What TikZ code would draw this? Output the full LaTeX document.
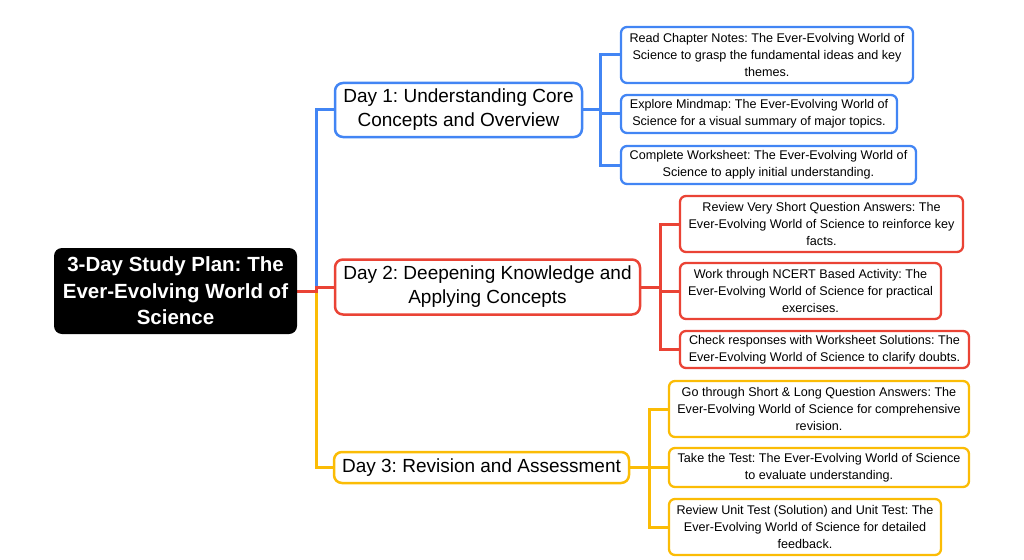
\documentclass[tikz,border=0pt]{standalone}
\usepackage{fontspec}
\setmainfont{Liberation Sans}
\frenchspacing
\usetikzlibrary{backgrounds}
\definecolor{cblue}{RGB}{66,133,244}
\definecolor{cred}{RGB}{234,67,53}
\definecolor{cyel}{RGB}{251,188,5}
\tikzset{
  rootbox/.style={fill=black, rounded corners=8pt, inner sep=0pt, align=center, text=white,
    font=\fontsize{20.5}{26.5}\selectfont\bfseries},
  daybox/.style={draw=#1, line width=2.5pt, fill=white, rounded corners=8pt, inner sep=0pt, align=center,
    font=\fontsize{19}{24}\selectfont},
  leafbox/.style={draw=#1, line width=2.3pt, fill=white, rounded corners=6pt, inner sep=0pt, align=center,
    font=\fontsize{12.6}{17}\selectfont},
  link/.style={draw=#1, line width=3pt},
}
\begin{document}
\begin{tikzpicture}[x=1pt,y=-1pt]
\useasboundingbox (0,0) rectangle (1024,559);

\node[rootbox, minimum width=243, minimum height=86] (root) at (175.5,291)
  {3-Day Study Plan: The\\Ever-Evolving World of\\Science};

\node[daybox=cblue, minimum width=247, minimum height=54] (d1) at (458.5,110)
  {Day 1: Understanding Core\\Concepts and Overview};
\node[daybox=cred, minimum width=305, minimum height=55] (d2) at (487.5,287)
  {Day 2: Deepening Knowledge and\\Applying Concepts};
\node[daybox=cyel, minimum width=295, minimum height=31] (d3) at (481.5,467.5)
  {Day 3: Revision and Assessment};

\node[leafbox=cblue, minimum width=292, minimum height=56] (l1) at (767,55)
  {Read Chapter Notes: The Ever-Evolving World of\\Science to grasp the fundamental ideas and key\\themes.};
\node[leafbox=cblue, minimum width=276, minimum height=38] (l2) at (759,114)
  {Explore Mindmap: The Ever-Evolving World of\\Science for a visual summary of major topics.};
\node[leafbox=cblue, minimum width=295, minimum height=38] (l3) at (768.5,165)
  {Complete Worksheet: The Ever-Evolving World of\\Science to apply initial understanding.};

\node[leafbox=cred, minimum width=283, minimum height=56] (l4) at (821.5,224)
  {Review Very Short Question Answers: The\\Ever-Evolving World of Science to reinforce key\\facts.};
\node[leafbox=cred, minimum width=261, minimum height=56] (l5) at (810.5,291)
  {Work through NCERT Based Activity: The\\Ever-Evolving World of Science for practical\\exercises.};
\node[leafbox=cred, minimum width=289, minimum height=37] (l6) at (824.5,349.5)
  {Check responses with Worksheet Solutions: The\\Ever-Evolving World of Science to clarify doubts.};

\node[leafbox=cyel, minimum width=300, minimum height=56] (l7) at (819,409)
  {Go through Short \& Long Question Answers: The\\Ever-Evolving World of Science for comprehensive\\revision.};
\node[leafbox=cyel, minimum width=300, minimum height=39] (l8) at (819,467.5)
  {Take the Test: The Ever-Evolving World of Science\\to evaluate understanding.};
\node[leafbox=cyel, minimum width=272, minimum height=56] (l9) at (805,527)
  {Review Unit Test (Solution) and Unit Test: The\\Ever-Evolving World of Science for detailed\\feedback.};

\coordinate (t0) at (316,291);
\coordinate (b1) at (600,110);
\coordinate (b2) at (660,287);
\coordinate (b3) at (649,467.5);

\begin{scope}[on background layer]
\draw[link=cblue] (t0) |- (d1.west);
\draw[link=cyel] (t0) |- (d3.west);
\draw[link=cred] (root.east) -- (t0) |- (d2.west);

\draw[link=cblue] (d1.east) -- (b1);
\draw[link=cblue] (b1) |- (l1.west);
\draw[link=cblue] (b1) |- (l2.west);
\draw[link=cblue] (b1) |- (l3.west);

\draw[link=cred] (d2.east) -- (b2);
\draw[link=cred] (b2) |- (l4.west);
\draw[link=cred] (b2) |- (l5.west);
\draw[link=cred] (b2) |- (l6.west);

\draw[link=cyel] (d3.east) -- (b3);
\draw[link=cyel] (b3) |- (l7.west);
\draw[link=cyel] (b3) |- (l8.west);
\draw[link=cyel] (b3) |- (l9.west);
\end{scope}
\end{tikzpicture}
\end{document}
